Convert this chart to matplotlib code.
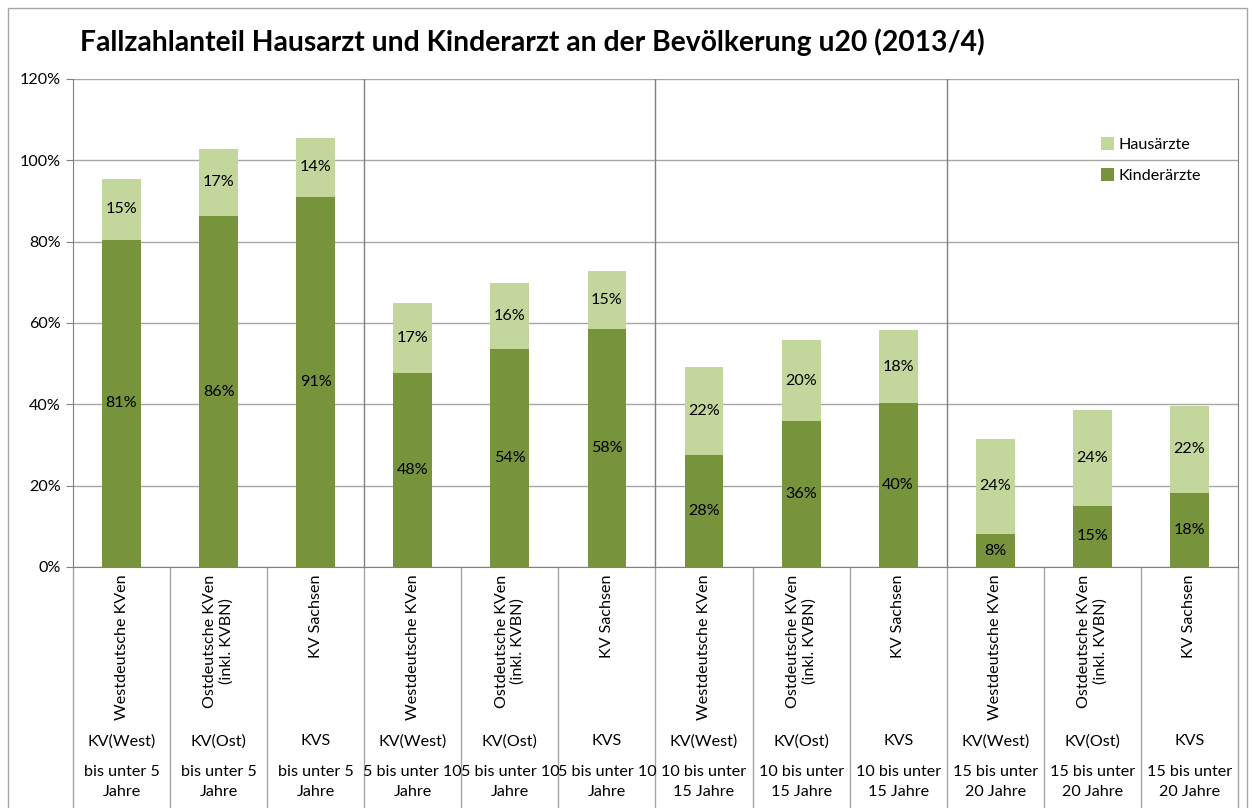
import numpy as np
import matplotlib.pyplot as plt
from matplotlib.patches import Rectangle
from matplotlib.transforms import blended_transform_factory

plt.rcParams['font.family'] = ['Lato', 'DejaVu Sans']

# Werte (Anteil an der Bevölkerung in %)
kv_namen = ["Westdeutsche KVen", "Ostdeutsche KVen\n(inkl. KVBN)", "KV Sachsen"] * 4
kv_kurz = ["KV(West)", "KV(Ost)", "KVS"] * 4
alter = (["bis unter 5\nJahre"] * 3 + ["5 bis unter 10\nJahre"] * 3
         + ["10 bis unter\n15 Jahre"] * 3 + ["15 bis unter\n20 Jahre"] * 3)
kinderaerzte = [80.5, 86.3, 91.0, 47.7, 53.6, 58.5, 27.5, 35.9, 40.3, 8.1, 15.0, 18.2]
hausaerzte = [15.0, 16.5, 14.5, 17.2, 16.2, 14.3, 21.7, 19.9, 18.0, 23.4, 23.6, 21.4]
kinder_label = ["81%", "86%", "91%", "48%", "54%", "58%", "28%", "36%", "40%", "8%", "15%", "18%"]
haus_label = ["15%", "17%", "14%", "17%", "16%", "15%", "22%", "20%", "18%", "24%", "24%", "22%"]

dunkel = "#77933C"
hell = "#C3D69B"
fs = 11.6

fig = plt.figure(figsize=(12.54, 8.08), dpi=100)
ax = fig.add_axes([73 / 1254, 1 - 567 / 808, (1238 - 73) / 1254, (567 - 79) / 808])

x = np.arange(len(kinderaerzte))
b1 = ax.bar(x, kinderaerzte, width=0.4, color=dunkel, label="Kinderärzte", zorder=3)
b2 = ax.bar(x, hausaerzte, width=0.4, bottom=kinderaerzte, color=hell, label="Hausärzte", zorder=3)

for i in x:
    ax.text(i, kinderaerzte[i] / 2, kinder_label[i], ha="center", va="center", fontsize=fs, zorder=4)
    ax.text(i, kinderaerzte[i] + hausaerzte[i] / 2, haus_label[i], ha="center", va="center",
            fontsize=fs, zorder=4)

ax.set_xlim(-0.5, len(x) - 0.5)
ax.set_ylim(0, 120)
ax.set_yticks(np.arange(0, 121, 20))
ax.set_yticklabels([f"{v}%" for v in range(0, 121, 20)], fontsize=fs)
ax.yaxis.grid(True, color="#A6A6A6", linewidth=1, zorder=0)
ax.set_xticks([])
ax.tick_params(axis="y", length=5, color="#808080", pad=4)
for s in ax.spines.values():
    s.set_color("#808080")
ax.spines["top"].set_visible(False)

# Trennlinien zwischen Altersgruppen
for g in [2.5, 5.5, 8.5]:
    ax.axvline(g, color="#808080", linewidth=1, zorder=2)

# mehrstufige Achsenbeschriftung
tr = blended_transform_factory(ax.transData, ax.transAxes)
for b in np.arange(-0.5, len(x), 1.0):
    ax.plot([b, b], [0, -0.6], transform=tr, color="#A6A6A6", linewidth=1, clip_on=False)
for i in x:
    ax.text(i, -0.016, kv_namen[i], transform=tr, rotation=90, ha="center", va="top",
            multialignment="center", fontsize=fs)
    ax.text(i, -0.357, kv_kurz[i], transform=tr, ha="center", va="center", fontsize=fs)
    ax.text(i, -0.44, alter[i], transform=tr, ha="center", va="center", fontsize=fs,
            linespacing=1.55)

ax.legend(handles=[b2, b1], loc="upper left", bbox_to_anchor=(0.87, 0.91), frameon=False,
          fontsize=fs, handlelength=0.8, handleheight=0.8, handletextpad=0.3, labelspacing=1.0)

fig.text(80 / 1254, 1 - 42 / 808, "Fallzahlanteil Hausarzt und Kinderarzt an der Bevölkerung u20 (2013/4)",
         fontsize=20.3, fontweight="bold", ha="left", va="center")

fig.patches.append(Rectangle((8 / 1254, -0.01), 1244 / 1254 - 8 / 1254 + 0.002, 1 - 8 / 808 + 0.01,
                             transform=fig.transFigure, fill=False, edgecolor="#A6A6A6", linewidth=1))

fig.savefig("out.png", dpi=100)
